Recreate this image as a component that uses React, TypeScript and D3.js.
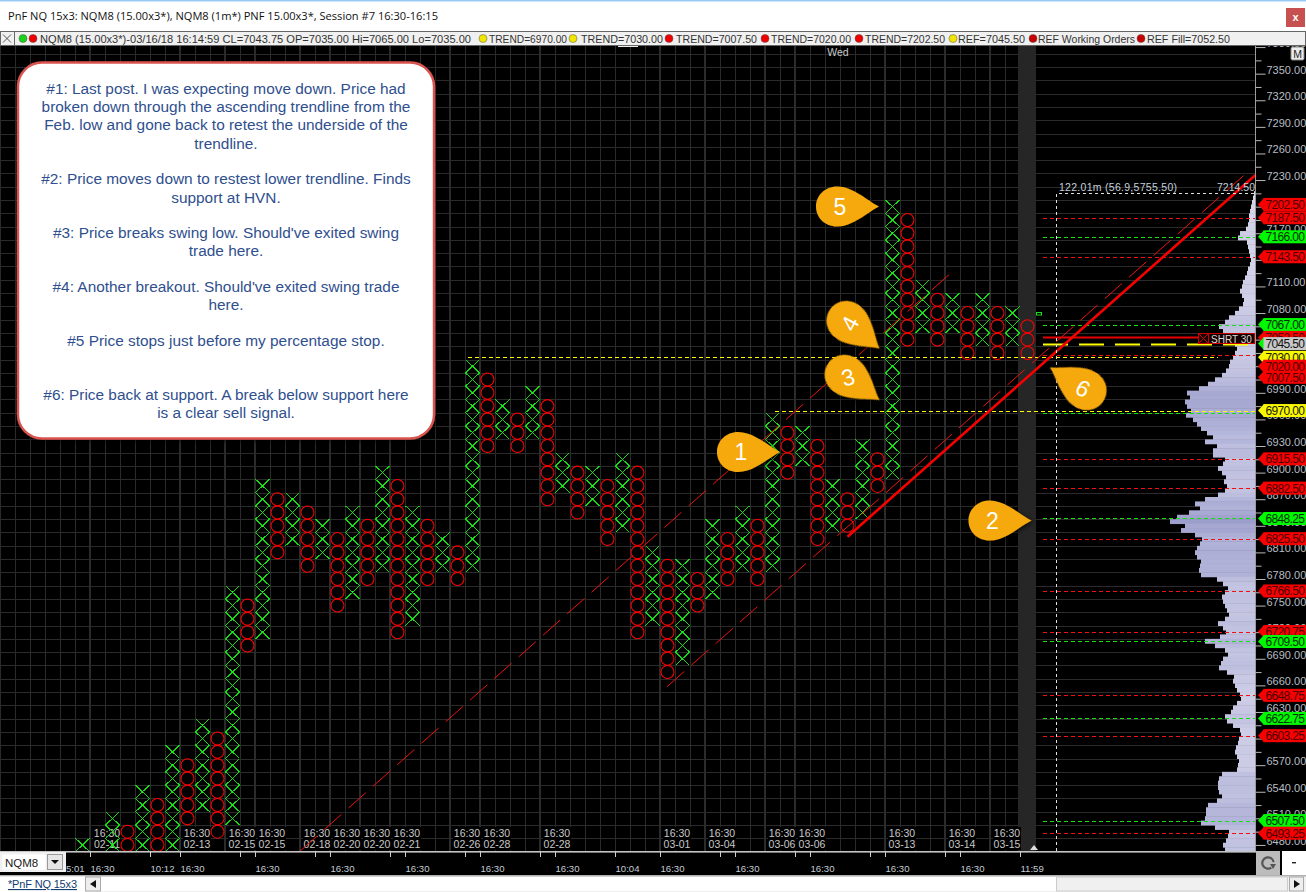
import React, { useEffect, useRef } from 'react';
import * as d3 from 'd3';

const W = 1306;
const H = 892;

// point & figure columns, one entry per column, prices are box centres
const columnType = 'X-XOXOXOXOXOXOXOXOXOXOXOXOXOXOXOXOXOXOXOXOXOXOXOXOXOXOXOXOXOXOXO';
const columnHigh = [
    6480, 0, 6510, 6495, 6540, 6525, 6585, 6570, 6615, 6600, 6765, 6750, 6885, 6870, 6870, 6855,
    6840, 6825, 6855, 6840, 6900, 6885, 6855, 6840, 6825, 6810, 7020, 7005, 6975, 6960, 6990, 6975,
    6915, 6900, 6900, 6885, 6915, 6900, 6810, 6795, 6795, 6780, 6840, 6825, 6855, 6840, 6960, 6945,
    6945, 6930, 6885, 6870, 6930, 6915, 7200, 7185, 7110, 7095, 7095, 7080, 7095, 7080, 7080, 7065,
];
const columnLow = [
    6480, 0, 6480, 6480, 6480, 6480, 6480, 6510, 6525, 6495, 6510, 6705, 6720, 6810, 6825, 6795,
    6810, 6750, 6765, 6780, 6795, 6720, 6735, 6780, 6795, 6780, 6795, 6930, 6945, 6930, 6945, 6870,
    6885, 6855, 6870, 6825, 6840, 6720, 6735, 6675, 6690, 6750, 6765, 6780, 6795, 6780, 6795, 6900,
    6915, 6825, 6840, 6840, 6855, 6885, 6900, 7050, 7065, 7050, 7065, 7035, 7050, 7035, 7050, 7035,
];

// session boundaries, in column units
const sessionLines = [0.5, 6.5, 9.5, 11.5, 14.5, 16.5, 18.5, 20.5, 24.5, 26.5, 30.5, 38.5, 41.5, 45.5, 47.5, 53.5, 57.5, 60.5];
const sessionDates = ['02-11', '02-13', '02-15', '02-15', '02-18', '02-20', '02-20', '02-21', '02-26', '02-28', '02-28', '03-01', '03-04', '03-06', '03-06', '03-13', '03-14', '03-15'];

const timeTicks = [0.5, 4.5, 6.5, 10.5, 11.5, 15.5, 16.5, 20.5, 21.5, 25.5, 26.5, 30.5, 31.5, 35.5, 38.5, 42.5, 43.5, 47.5, 48.5, 52.5, 53.5, 57.5, 58.5, 62.5];
const timeLabelCols = [0.5, 4.5, 6.5, 11.5, 16.5, 21.5, 26.5, 31.5, 35.5, 38.5, 43.5, 48.5, 53.5, 58.5, 62.5];
const timeLabelText = ['16:30', '10:12', '16:30', '16:30', '16:30', '16:30', '16:30', '16:30', '10:04', '16:30', '16:30', '16:30', '16:30', '16:30', '11:59'];

const priceTicks = d3.range(6480, 7381, 30);

// price tags on the right axis
const tagPrices = [7202.5, 7187.5, 7166, 7143.5, 7067, 7052.5, 7030, 7020, 7007.5, 6970, 6915.5, 6882.5, 6848.25, 6825.5, 6766.5, 6720.75, 6709.5, 6648.75, 6622.75, 6603.25, 6507.5, 6493.25];
const tagKinds = ['r', 'r', 'g', 'r', 'g', 'r', 'y', 'r', 'r', 'y', 'r', 'r', 'g', 'r', 'r', 'r', 'g', 'r', 'g', 'r', 'g', 'r'];

// dashed horizontal levels
const redLevels = [7187.5, 7143.5, 7032.5, 6915.5, 6882.5, 6825.5, 6766.5, 6720.75, 6648.75, 6603.25, 6493.25];
const greenLevels = [7166, 7067, 6967, 6848.25, 6709.5, 6622.75, 6507.5];

// trend lines, [column, price]
const trendUpper = [[14.5, 6473], [57.97, 7126.3]];
const trendLower = [[38.97, 6658.5], [77.83, 7241.3]];
const trendMain = [[51, 6827.7], [78.2, 7235.7]];

// volume profile, 5 point bins from 7215 down to 6475
const profileTop = 7215;
const profileVolume = [
    1, 2, 3, 4, 5, 6, 6, 7, 9, 15, 17, 8, 7, 6, 5, 4, 5, 7, 8, 10, 12, 13, 15, 13, 11, 12, 16, 20, 26, 30,
    36, 32, 27, 24, 20, 18, 20, 22, 25, 26, 29, 33, 40, 47, 56, 68, 65, 70, 68, 64, 69, 62, 58, 54, 48, 42,
    50, 38, 42, 42, 30, 32, 37, 33, 29, 31, 28, 30, 37, 50, 60, 55, 66, 78, 85, 70, 74, 60, 53, 55, 58, 60,
    58, 54, 55, 56, 54, 38, 32, 27, 30, 33, 32, 30, 28, 26, 30, 37, 32, 29, 35, 50, 40, 30, 27, 32, 34, 36,
    28, 21, 22, 20, 18, 15, 14, 18, 22, 24, 30, 28, 22, 15, 14, 16, 17, 19, 20, 18, 16, 17, 18, 33, 36, 37,
    37, 36, 33, 38, 47, 49, 49, 50, 54, 40, 26, 27, 29, 32, 30,
];

const noteLines = [
    '#1: Last post. I was expecting move down. Price had',
    'broken down through the ascending trendline from the',
    'Feb. low and gone back to retest the underside of the',
    'trendline.',
    '#2: Price moves down to restest lower trendline. Finds',
    'support at HVN.',
    '#3: Price breaks swing low. Should\'ve exited swing',
    'trade here.',
    '#4: Another breakout. Should\'ve exited swing trade',
    'here.',
    '#5 Price stops just before my percentage stop.',
    '#6: Price back at support. A break below support here',
    'is a clear sell signal.',
];
const noteRows = [88, 106, 124, 143, 178, 197, 232, 250, 286, 304, 340, 394, 412];

const UI = '"Liberation Sans", Arial, sans-serif';
const GRID = '#2b2b2b';
const TEARDROP = 'M42 0 C30 -6 16 -20 0 -20 C-12 -20 -21 -11 -21 0 C-21 11 -12 20 0 20 C16 20 30 6 42 0 Z';

const App = () => {
    const ref = useRef(null);

    useEffect(() => {
        drawChart();
    }, []);

    function drawChart() {
        const svg = d3.select(ref.current);
        svg.selectAll('*').remove();

        const x = d3.scaleLinear().domain([0, 63]).range([82.5, 1027.5]);
        const y = d3.scaleLinear().domain([7207.5, 6487.5]).range([200, 838.3]);
        const vol = d3.scaleLinear().domain([0, 100]).range([0, 100]);
        const volColor = d3.scaleLinear().domain([15, 50, 85]).range(['#cdcde6', '#b4b5da', '#9c9ecb']);
        const box = Math.abs(y(0) - y(15));
        const snap = (v) => Math.round(v) + 0.5;

        svg.append('rect').attr('width', W).attr('height', H).attr('fill', '#fff');
        svg.append('rect').attr('y', 45).attr('width', W).attr('height', 830).attr('fill', '#000');

        // window title
        svg.append('rect').attr('width', W).attr('height', 1.5).attr('fill', '#99ccf5');
        svg.append('text').attr('x', 8).attr('y', 20).attr('font-family', '"Open Sans"').attr('font-size', 11.5)
            .attr('fill', '#111').attr('textLength', 430).attr('lengthAdjust', 'spacingAndGlyphs')
            .text('PnF NQ 15x3: NQM8 (15.00x3*), NQM8 (1m*) PNF 15.00x3*, Session #7 16:30-16:15');
        svg.append('rect').attr('x', 1286).attr('y', 8).attr('width', 19).attr('height', 19).attr('fill', '#c75050');
        svg.append('text').attr('x', 1295.5).attr('y', 21).attr('text-anchor', 'middle').attr('font-family', UI)
            .attr('font-weight', 700).attr('font-size', 11).attr('fill', '#fff').text('x');

        // grid
        const grid = svg.append('g');
        const gridPrices = d3.range(6487.5, 7400, 15);
        grid.selectAll('.h').data(gridPrices).enter().append('line')
            .attr('x1', 0).attr('x2', 1255).attr('y1', (d) => snap(y(d))).attr('y2', (d) => snap(y(d)))
            .attr('stroke', GRID).attr('stroke-width', 1);
        grid.selectAll('.v').data(d3.range(-5.5, 63, 1)).enter().append('line')
            .attr('x1', (d) => x(d) + 0.5).attr('x2', (d) => x(d) + 0.5).attr('y1', 46).attr('y2', 851)
            .attr('stroke', GRID).attr('stroke-width', 1);
        grid.selectAll('.s').data(sessionLines).enter().append('line')
            .attr('x1', (d) => x(d)).attr('x2', (d) => x(d)).attr('y1', 46).attr('y2', 851)
            .attr('stroke', GRID).attr('stroke-width', 2);

        // dark band at the current column
        svg.append('rect').attr('x', 1018).attr('y', 46).attr('width', 18).attr('height', 805).attr('fill', '#262626');
        svg.append('path').attr('d', 'M1030 850 L1034 845 L1038 850 Z').attr('fill', '#ddd');
        svg.append('rect').attr('x', 618).attr('y', 45).attr('width', 20).attr('height', 2).attr('fill', '#eee');
        svg.append('text').attr('x', 838).attr('y', 56).attr('text-anchor', 'middle').attr('font-family', UI)
            .attr('font-size', 10.5).attr('fill', '#c8c8c8').text('Wed');

        // volume profile
        const profile = svg.append('g');
        profile.selectAll('rect').data(profileVolume).enter().append('rect')
            .attr('x', (d) => 1255 - vol(d))
            .attr('y', (d, i) => y(profileTop - i * 5) - 2.2)
            .attr('width', (d) => vol(d))
            .attr('height', 4.9)
            .attr('fill', (d) => volColor(d));

        // session labels sit under the boxes
        const sess = svg.append('g').attr('font-family', UI).attr('font-size', 10.5).attr('fill', '#c8c8c8').attr('text-anchor', 'middle');
        sessionLines.forEach((s, i) => {
            sess.append('rect').attr('x', x(s) + 3).attr('y', 827).attr('width', 28).attr('height', 23).attr('fill', '#000');
            sess.append('text').attr('x', x(s) + 17).attr('y', 837).text('16:30');
            sess.append('text').attr('x', x(s) + 17).attr('y', 848).text(sessionDates[i]);
        });

        // P&F boxes
        const colsData = columnHigh.map((high, i) => ({ i, high, low: columnLow[i], type: columnType[i] }))
            .filter((c) => c.type !== '-');
        const crosses = svg.append('g').attr('shape-rendering', 'crispEdges');
        const rings = svg.append('g');
        colsData.forEach((c) => {
            d3.range(c.low, c.high + 1, 15).forEach((p) => {
                const cx = x(c.i);
                const cy = y(p);
                if (c.type === 'X') {
                    crosses.append('path')
                        .attr('d', `M${cx - 7} ${cy - box / 2} L${cx + 7} ${cy + box / 2} M${cx + 7} ${cy - box / 2} L${cx - 7} ${cy + box / 2}`)
                        .attr('stroke', '#16dc16').attr('stroke-width', 1).attr('fill', 'none');
                    crosses.append('circle').attr('cx', cx).attr('cy', cy).attr('r', 0.8).attr('fill', '#18f018');
                } else {
                    rings.append('circle').attr('cx', cx).attr('cy', cy).attr('r', 6.5)
                        .attr('fill', 'none').attr('stroke', '#ff0000').attr('stroke-width', 1.05);
                }
            });
        });

        // level lines
        const levels = svg.append('g');
        const level = (p, color, x1, x2, dash, width) => levels.append('line')
            .attr('x1', x1).attr('x2', x2).attr('y1', snap(y(p))).attr('y2', snap(y(p)))
            .attr('stroke', color).attr('stroke-width', width).attr('stroke-dasharray', dash);
        redLevels.forEach((p) => level(p, '#f01010', 1043, 1255, '4 3', 1));
        greenLevels.forEach((p) => level(p, '#14e014', 1043, 1255, '4 3', 1));
        level(7030, '#ffff00', 468, 1218, '4 3', 1);
        level(6970, '#ffff00', 775, 1255, '4 3', 1);
        level(7052.5, '#e80000', 1043, 1198, null, 2);
        level(7045.5, '#ffff00', 1043, 1255, '25 11', 2);

        // trend lines
        const line = d3.line().x((d) => x(d[0])).y((d) => y(d[1]));
        svg.append('path').attr('d', line(trendUpper)).attr('stroke', '#f01010').attr('stroke-width', 1).attr('stroke-dasharray', '23 9.5').attr('fill', 'none');
        svg.append('path').attr('d', line(trendLower)).attr('stroke', '#f01010').attr('stroke-width', 1).attr('stroke-dasharray', '23 9.5').attr('fill', 'none');
        svg.append('path').attr('d', line(trendMain)).attr('stroke', '#f60000').attr('stroke-width', 2.6).attr('fill', 'none');

        // profile header
        svg.append('path').attr('d', 'M1056.5 851 V193.5 H1255').attr('stroke', '#e0e0e0').attr('stroke-dasharray', '3 3').attr('fill', 'none');
        svg.append('text').attr('x', 1059).attr('y', 191).attr('font-family', UI).attr('font-size', 10.5).attr('fill', '#c4d0dc')
            .attr('textLength', 118).text('122.01m (56.9,5755.50)');
        svg.append('text').attr('x', 1255).attr('y', 191).attr('text-anchor', 'end').attr('font-family', UI).attr('font-size', 10.5).attr('fill', '#c4d0dc').text('7214.50');
        svg.append('rect').attr('x', 1036.5).attr('y', 312.5).attr('width', 5).attr('height', 2.5).attr('fill', 'none').attr('stroke', '#1adf1a');

        // short position box
        svg.append('rect').attr('x', 1198.5).attr('y', 333.5).attr('width', 56).attr('height', 10).attr('fill', '#140000').attr('stroke', '#c80000');
        svg.append('path').attr('d', 'M1199 334 L1208 343 M1208 334 L1199 343 M1208.5 334 V343').attr('stroke', '#c80000').attr('fill', 'none');
        svg.append('text').attr('x', 1211).attr('y', 342.5).attr('font-family', UI).attr('font-size', 10).attr('fill', '#d8d8d8').text('SHRT 30');

        // price axis
        const axisG = svg.append('g').attr('transform', 'translate(1255.5,0)').call(
            d3.axisRight(y).tickValues(priceTicks).tickSize(10).tickFormat(d3.format('.2f')),
        );
        axisG.select('.domain').attr('stroke', '#9a9a9a').attr('d', 'M0 46 V851');
        axisG.selectAll('line').attr('stroke', '#b8b8b8');
        axisG.selectAll('text').attr('x', 11).attr('dy', '-0.05em').attr('font-family', UI).attr('font-size', 11).attr('fill', '#b8bec4');
        const minorG = svg.append('g').attr('transform', 'translate(1255.5,0)').call(
            d3.axisRight(y).tickValues(priceTicks.slice(0, -1).map((p) => p + 15)).tickSize(6).tickFormat(''),
        );
        minorG.select('.domain').remove();
        minorG.selectAll('line').attr('stroke', '#b8b8b8');

        // legend strip goes over the top of the axis
        svg.append('rect').attr('x', 0.5).attr('y', 31.5).attr('width', W - 1).attr('height', 14)
            .attr('fill', '#f0f0f0').attr('stroke', '#666');
        svg.append('rect').attr('x', 0.5).attr('y', 31.5).attr('width', 14).attr('height', 14).attr('fill', '#f0f0f0').attr('stroke', '#666');
        svg.append('path').attr('d', 'M3 34.5 L11 42.5 M11 34.5 L3 42.5').attr('stroke', '#555').attr('fill', 'none');
        const legendDots = [
            [23, '#19d219'], [33, '#f00000'], [483, '#f2e600'], [573, '#f2e600'], [669, '#f00000'], [765, '#f00000'],
            [859, '#f00000'], [953, '#f2e600'], [1033, '#c80000'], [1141, '#c80000'],
        ];
        svg.selectAll('.legend-dot').data(legendDots).enter().append('circle')
            .attr('cx', (d) => d[0]).attr('cy', 38.5).attr('r', 4).attr('fill', (d) => d[1]).attr('stroke', '#555').attr('stroke-width', 0.5);
        const legendTexts = [
            [40, 431, 'NQM8 (15.00x3*)-03/16/18 16:14:59 CL=7043.75 OP=7035.00 Hi=7065.00 Lo=7035.00'],
            [489, 78, 'TREND=6970.00'], [581, 82, 'TREND=7030.00'], [676, 81, 'TREND=7007.50'],
            [771, 80, 'TREND=7020.00'], [865, 80, 'TREND=7202.50'], [958, 67, 'REF=7045.50'],
            [1038, 97, 'REF Working Orders'], [1147, 83, 'REF Fill=7052.50'],
        ];
        svg.selectAll('.legend-text').data(legendTexts).enter().append('text')
            .attr('x', (d) => d[0]).attr('y', 42.5).attr('font-family', UI).attr('font-size', 11)
            .attr('fill', '#333').attr('textLength', (d) => d[1]).attr('lengthAdjust', 'spacingAndGlyphs').text((d) => d[2]);

        // price tags
        const tagColor = { r: '#f80000', g: '#00f800', y: '#f8f800' };
        const tagText = { r: '#4c0000', g: '#062f06', y: '#202000' };
        const drawTag = (p, fill, arrow, text) => {
            const cy = y(p);
            svg.append('path').attr('d', `M1258 ${cy} L1264 ${cy - 6.5} L1264 ${cy + 6.5} Z`).attr('fill', arrow);
            svg.append('rect').attr('x', 1263.5).attr('y', cy - 6.5).attr('width', 43).attr('height', 13).attr('fill', fill);
            svg.append('text').attr('x', 1265.5).attr('y', cy + 4.5).attr('font-family', UI).attr('font-size', 12)
                .attr('fill', text).attr('textLength', 39.5).text(p.toFixed(2));
        };
        tagPrices.forEach((p, i) => drawTag(p, tagColor[tagKinds[i]], tagColor[tagKinds[i]], tagText[tagKinds[i]]));
        drawTag(7045.5, '#c8c8c8', '#00f800', '#111');

        // M button
        svg.append('rect').attr('x', 1291).attr('y', 47).attr('width', 13).attr('height', 13).attr('rx', 1.5).attr('fill', '#ececec').attr('stroke', '#888');
        svg.append('text').attr('x', 1297.5).attr('y', 57.5).attr('text-anchor', 'middle').attr('font-family', UI).attr('font-size', 10.5).attr('fill', '#222').text('M');

        // note box
        const defs = svg.append('defs');
        const blur = defs.append('filter').attr('id', 'soft').attr('x', '-10%').attr('y', '-10%').attr('width', '130%').attr('height', '130%');
        blur.append('feDropShadow').attr('dx', 1.5).attr('dy', 1.5).attr('stdDeviation', 2.5).attr('flood-color', '#000').attr('flood-opacity', 0.7);
        svg.append('rect').attr('x', 18).attr('y', 62.5).attr('width', 416).attr('height', 376).attr('rx', 24)
            .attr('fill', '#fff').attr('stroke', '#d9534f').attr('stroke-width', 2.4).attr('filter', 'url(#soft)');
        svg.selectAll('.note').data(noteLines).enter().append('text')
            .attr('x', 226).attr('y', (d, i) => noteRows[i] + 5.5).attr('text-anchor', 'middle')
            .attr('font-family', UI).attr('font-size', 15.4).attr('fill', '#2f4f8e').text((d) => d);

        // numbered pins: tip position, rotation of the drop, rotation of the digit
        const pins = [
            ['1', 780, 452, 0, 0],
            ['2', 1031.5, 520.5, 0, 0],
            ['3', 879.5, 400, 36, -15],
            ['4', 879.5, 348.5, 40, -62],
            ['5', 879, 206.5, 0, 0],
            ['6', 1050, 367.5, 212, 28],
        ];
        pins.forEach(([label, tx, ty, rot, textRot]) => {
            const g = svg.append('g').attr('transform', `translate(${tx},${ty}) rotate(${rot}) translate(-42,0)`);
            g.append('path').attr('d', TEARDROP).attr('fill', '#f6a90c').attr('filter', 'url(#soft)');
            g.append('text').attr('transform', `translate(3,0) rotate(${textRot - rot})`).attr('text-anchor', 'middle').attr('dy', '0.36em')
                .attr('font-family', UI).attr('font-size', 23).attr('fill', '#fff').text(label);
        });

        // time axis strip
        svg.append('rect').attr('y', 851).attr('width', 1256).attr('height', 1.6).attr('fill', '#c4c4c4');
        const timeG = svg.append('g').attr('transform', 'translate(0,852)').call(
            d3.axisBottom(x).tickValues(timeTicks).tickSize(5).tickFormat(''),
        );
        timeG.select('.domain').remove();
        timeG.selectAll('line').attr('stroke', '#d0d0d0');
        svg.selectAll('.time-label').data(timeLabelCols).enter().append('text')
            .attr('x', (d) => x(d) + 0.5).attr('y', 872).attr('font-family', UI).attr('font-size', 9.6).attr('fill', '#c4ccd4')
            .text((d, i) => timeLabelText[i]);
        svg.append('text').attr('x', 66).attr('y', 872).attr('font-family', UI).attr('font-size', 9.6).attr('fill', '#c4ccd4').text('5:01');

        // instrument selector
        svg.append('rect').attr('x', 0).attr('y', 852).attr('width', 66).attr('height', 20).attr('fill', '#f0f0f0');
        svg.append('rect').attr('x', 2.5).attr('y', 854.5).attr('width', 43).attr('height', 15).attr('fill', '#fff');
        svg.append('text').attr('x', 5).attr('y', 867).attr('font-family', UI).attr('font-size', 11.5).attr('fill', '#222').text('NQM8');
        svg.append('rect').attr('x', 47.5).attr('y', 854.5).attr('width', 15).attr('height', 15).attr('fill', '#e6e6e6').attr('stroke', '#999');
        svg.append('path').attr('d', 'M51 860 H59 L55 864 Z').attr('fill', '#111');

        // bottom strip
        svg.append('rect').attr('y', 875).attr('width', W).attr('height', 17).attr('fill', '#f0f0f0');
        svg.append('rect').attr('y', 875).attr('width', W).attr('height', 1.5).attr('fill', '#b0b0b0');
        svg.append('rect').attr('y', 876.5).attr('width', 85).attr('height', 15.5).attr('fill', '#fff');
        svg.append('text').attr('x', 8).attr('y', 888).attr('font-family', UI).attr('font-size', 11).attr('fill', '#123c6e')
            .attr('text-decoration', 'underline').attr('textLength', 69).text('*PnF NQ 15x3');
        svg.append('rect').attr('x', 85.5).attr('y', 877).attr('width', 15).attr('height', 14).attr('fill', '#eee').attr('stroke', '#aaa');
        svg.append('path').attr('d', 'M96 880 V888 L90 884 Z').attr('fill', '#111');
        svg.append('rect').attr('x', 101).attr('y', 877).attr('width', 955).attr('height', 14).attr('fill', '#fff');
        svg.append('rect').attr('x', 1056.5).attr('y', 877).attr('width', 231).attr('height', 14).attr('fill', '#f0f0f0').attr('stroke', '#ccc');
        svg.append('rect').attr('x', 1289.5).attr('y', 877).attr('width', 14).attr('height', 14).attr('fill', '#eee').attr('stroke', '#aaa');
        svg.append('path').attr('d', 'M1294 880 V888 L1300 884 Z').attr('fill', '#111');

        // refresh and minus buttons
        svg.append('rect').attr('x', 1256).attr('y', 851).attr('width', 24).attr('height', 24).attr('fill', '#bcbcbc');
        const arc = d3.arc().innerRadius(4.6).outerRadius(6.8).startAngle(Math.PI * 0.8).endAngle(Math.PI * 2.45);
        svg.append('path').attr('transform', 'translate(1268,863)').attr('d', arc()).attr('fill', '#555');
        svg.append('path').attr('d', 'M1270 864 H1276 L1273 869 Z').attr('fill', '#555');
        svg.append('rect').attr('x', 1282).attr('y', 851).attr('width', 24).attr('height', 24).attr('fill', '#fff');
        svg.append('rect').attr('x', 1292).attr('y', 862).attr('width', 4).attr('height', 1.4).attr('fill', '#222');
    }

    return <svg ref={ref} width={W} height={H} style={{ position: 'absolute', left: 0, top: 0, display: 'block' }} />;
};

export default App;
